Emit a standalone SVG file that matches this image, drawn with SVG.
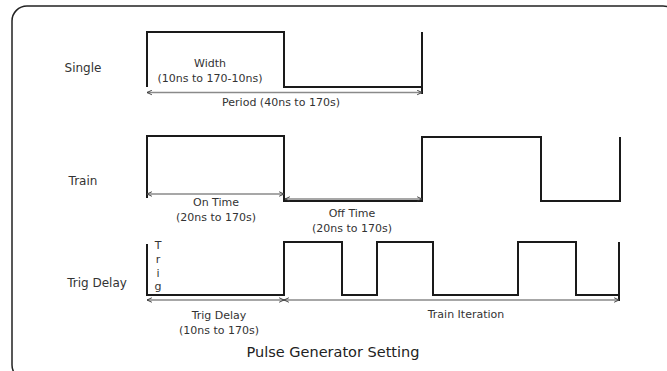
<svg xmlns="http://www.w3.org/2000/svg" width="667" height="371" viewBox="0 0 667 371">
<style>
.wave{fill:none;stroke:#1a1a1a;stroke-width:2;stroke-linejoin:miter}
.dim{fill:none;stroke:#8a8a8a;stroke-width:1.5}
.t{font-family:"DejaVu Sans",Verdana,sans-serif;font-size:11px;fill:#333;text-anchor:middle}
.lbl{font-family:"DejaVu Sans",Verdana,sans-serif;font-size:12px;fill:#333;text-anchor:middle}
.title{font-family:"DejaVu Sans",Verdana,sans-serif;font-size:14.5px;fill:#222;text-anchor:middle}
</style>
<defs>
<marker id="ah" viewBox="0 0 8 8" refX="7.5" refY="4" markerWidth="6" markerHeight="6" orient="auto-start-reverse" markerUnits="userSpaceOnUse">
<path d="M1,1 L7.5,4 L1,7" fill="none" stroke="#333" stroke-width="1.2"/>
</marker>
</defs>
<rect width="667" height="371" fill="#fff"/>
<rect x="12" y="6" width="666" height="374" rx="15" ry="15" fill="none" stroke="#222" stroke-width="1.5"/>

<g id="single">
<text class="lbl" x="83" y="72">Single</text>
<path class="wave" d="M147,87 V32 H284 V87 H422"/>
<path class="wave" d="M422,32 V94"/>
<text class="t" x="210" y="67">Width</text>
<text class="t" x="210" y="82">(10ns to 170-10ns)</text>
</g>

<g id="train">
<text class="lbl" x="83" y="185">Train</text>
<path class="wave" d="M147,198 V136 H284 V201 H422 V137 H541 V201 H620 V137"/>
<text class="t" x="216" y="206">On Time</text>
<text class="t" x="216" y="221">(20ns to 170s)</text>
<text class="t" x="352" y="217">Off Time</text>
<text class="t" x="352" y="232">(20ns to 170s)</text>
</g>

<g id="trigdelay">
<text class="lbl" x="97" y="287">Trig Delay</text>
<path class="wave" d="M147,244 V295 H284 V242 H342 V295 H377 V242 H433 V295 H518 V242 H576 V295 H619"/>
<path class="wave" d="M619,242 V301"/>
<text class="t" x="158" y="249">T</text>
<text class="t" x="158" y="263">r</text>
<text class="t" x="158" y="277">i</text>
<text class="t" x="158" y="290">g</text>
<text class="t" x="219" y="319">Trig Delay</text>
<text class="t" x="219" y="334">(10ns to 170s)</text>
<text class="t" x="466" y="318">Train Iteration</text>
</g>

<g id="connectors">
<line class="dim" x1="147" y1="92.5" x2="422" y2="92.5" marker-start="url(#ah)" marker-end="url(#ah)"/>
<line class="dim" x1="147" y1="194" x2="284" y2="194" marker-start="url(#ah)" marker-end="url(#ah)"/>
<line class="dim" x1="285" y1="199" x2="422" y2="199" marker-start="url(#ah)" marker-end="url(#ah)"/>
<line class="dim" x1="147" y1="300" x2="284" y2="300" marker-start="url(#ah)" marker-end="url(#ah)"/>
<line class="dim" x1="284" y1="300" x2="619" y2="300" marker-start="url(#ah)" marker-end="url(#ah)"/>
</g>
<text class="t" x="281" y="106">Period (40ns to 170s)</text>

<text class="title" x="333" y="357">Pulse Generator Setting</text>
</svg>
